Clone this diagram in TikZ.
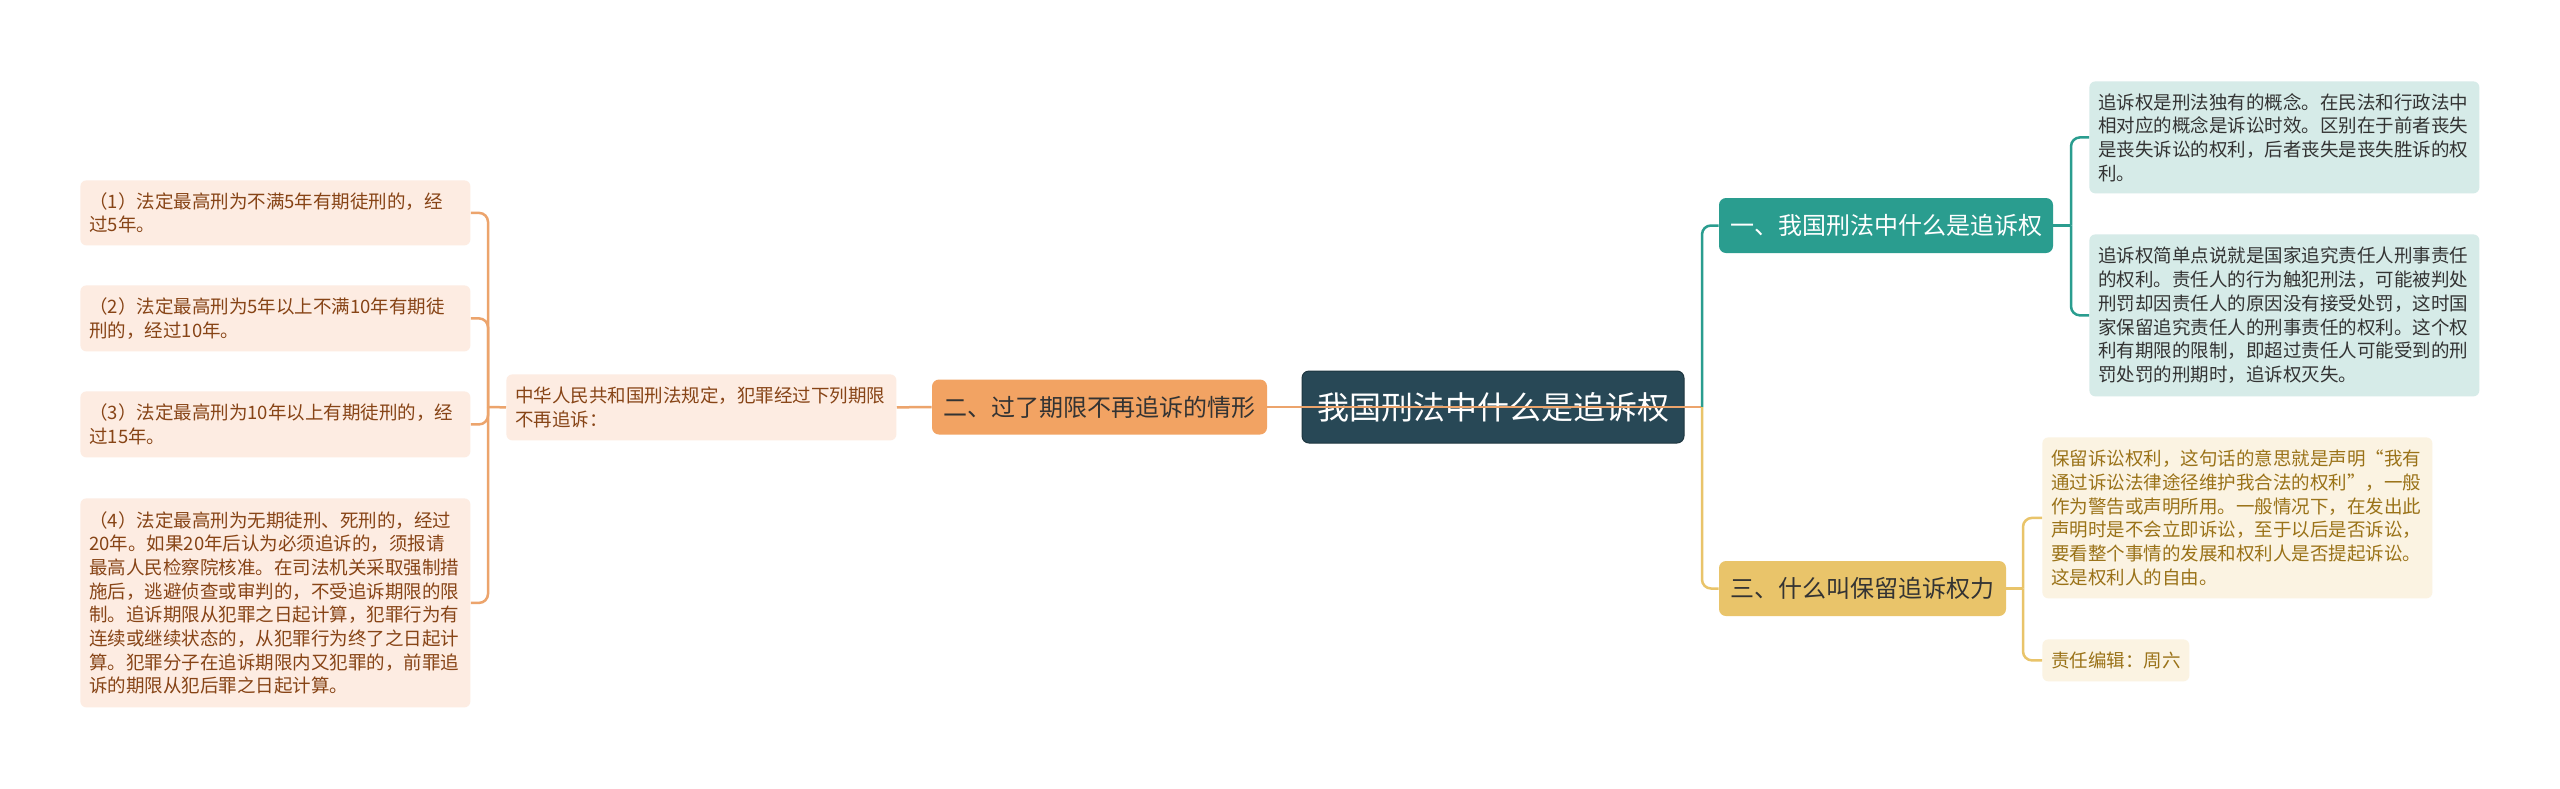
\documentclass[tikz,border=0pt]{standalone}
\usepackage{fontspec}
\setmainfont{Noto Sans CJK SC}
\usepackage{tikz}

\definecolor{rootcol}{RGB}{40,72,86}
\definecolor{orangecol}{RGB}{242,163,99}
\definecolor{orangelinecol}{RGB}{236,164,108}
\definecolor{orangeleafcol}{RGB}{253,236,226}
\definecolor{orangetextcol}{RGB}{135,68,22}
\definecolor{tealcol}{RGB}{42,157,143}
\definecolor{tealleafcol}{RGB}{214,235,232}
\definecolor{yellowcol}{RGB}{233,196,106}
\definecolor{yellowleafcol}{RGB}{251,243,226}
\definecolor{yellowtextcol}{RGB}{154,114,24}

\tikzset{every picture/.style={line width=0.75pt}}
\tikzset{
  rootbox/.style={fill=rootcol, draw=rootcol!75!black, line width=1pt, text=white, rounded corners=7pt,
    minimum width=382pt, minimum height=72pt, inner sep=0pt, font=\fontsize{32pt}{36pt}\selectfont},
  branch/.style={rounded corners=7pt, inner sep=0pt, minimum height=55pt, font=\fontsize{24pt}{28pt}\selectfont},
  orangebranch/.style={branch, fill=orangecol, text=black!80},
  tealbranch/.style={branch, fill=tealcol, text=white},
  yellowbranch/.style={branch, fill=yellowcol, text=black!80},
  leaf/.style={anchor=north west, rounded corners=6pt, inner xsep=9pt, inner ysep=0pt, text width=372pt,
    align=left, font=\fontsize{18.5pt}{23.7pt}\selectfont},
  orangeleaf/.style={leaf, fill=orangeleafcol, text=orangetextcol},
  tealleaf/.style={leaf, fill=tealleafcol, text=black!80},
  yellowleaf/.style={leaf, fill=yellowleafcol, text=yellowtextcol},
  link/.style={line width=2.5pt, rounded corners=9pt},
  orangelink/.style={link, draw=orangelinecol},
  teallink/.style={link, draw=tealcol},
  yellowlink/.style={link, draw=yellowcol},
}

\begin{document}
\begin{tikzpicture}[x=1pt,y=1pt,yscale=-1,xscale=1]
%set diagram size 2560 x 788
\fill[white] (0,0) rectangle (2560,788);

% Root Node
\node[rootbox] (root) at (1493,407) {我国刑法中什么是追诉权};

% Branch Nodes
\node[orangebranch, minimum width=335pt] (limit) at (1099.5,407) {二、过了期限不再追诉的情形};
\node[tealbranch, minimum width=334pt] (what) at (1886,225.5) {一、我国刑法中什么是追诉权};
\node[yellowbranch, minimum width=287pt] (reserve) at (1862.5,588.5) {三、什么叫保留追诉权力};

% Text Node
\node[orangeleaf, minimum height=66pt] (law) at (506,374) {中华人民共和国刑法规定，犯罪经过下列期限\\不再追诉：};
% Text Node
\node[orangeleaf, minimum height=65pt] (term1) at (80,180) {（1）法定最高刑为不满5年有期徒刑的，经\\过5年。};
% Text Node
\node[orangeleaf, minimum height=66pt] (term2) at (80,285) {（2）法定最高刑为5年以上不满10年有期徒\\刑的，经过10年。};
% Text Node
\node[orangeleaf, minimum height=66pt] (term3) at (80,391) {（3）法定最高刑为10年以上有期徒刑的，经\\过15年。};
% Text Node
\node[orangeleaf, minimum height=209pt] (term4) at (80,498) {（4）法定最高刑为无期徒刑、死刑的，经过\\20年。如果20年后认为必须追诉的，须报请\\最高人民检察院核准。在司法机关采取强制措\\施后，逃避侦查或审判的，不受追诉期限的限\\制。追诉期限从犯罪之日起计算，犯罪行为有\\连续或继续状态的，从犯罪行为终了之日起计\\算。犯罪分子在追诉期限内又犯罪的，前罪追\\诉的期限从犯后罪之日起计算。};

% Text Node
\node[tealleaf, minimum height=112pt] (concept) at (2089,81) {追诉权是刑法独有的概念。在民法和行政法中\\相对应的概念是诉讼时效。区别在于前者丧失\\是丧失诉讼的权利，后者丧失是丧失胜诉的权\\利。};
% Text Node
\node[tealleaf, minimum height=162pt] (meaning) at (2089,234) {追诉权简单点说就是国家追究责任人刑事责任\\的权利。责任人的行为触犯刑法，可能被判处\\刑罚却因责任人的原因没有接受处罚，这时国\\家保留追究责任人的刑事责任的权利。这个权\\利有期限的限制，即超过责任人可能受到的刑\\罚处罚的刑期时，追诉权灭失。};

% Text Node
\node[yellowleaf, minimum height=161pt] (statement) at (2042,437) {保留诉讼权利，这句话的意思就是声明“我有\\通过诉讼法律途径维护我合法的权利”，一般\\作为警告或声明所用。一般情况下，在发出此\\声明时是不会立即诉讼，至于以后是否诉讼，\\要看整个事情的发展和权利人是否提起诉讼。\\这是权利人的自由。};
% Text Node
\node[yellowleaf, minimum height=42pt, text width=129pt] (editor) at (2042,639) {责任编辑：周六};

%Straight Lines
\coordinate (lj) at (488,407);
\coordinate (rj) at (1702,407);
\coordinate (tj) at (2071,225.5);
\coordinate (yj) at (2023,588.5);

\draw[orangelink] (law.east) -- (limit.west);
\draw[orangelink] (law.west) -- (lj);
\foreach \t in {term1,term2,term3,term4}
  \draw[orangelink] (lj) |- (\t.east);
\draw[orangelink] (limit.east) -- (rj);

\draw[teallink] (rj) |- (what.west);
\draw[teallink] (what.east) -- (tj);
\draw[teallink] (tj) |- (concept.west);
\draw[teallink] (tj) |- (meaning.west);

\draw[yellowlink] (rj) |- (reserve.west);
\draw[yellowlink] (reserve.east) -- (yj);
\draw[yellowlink] (yj) |- (statement.west);
\draw[yellowlink] (yj) |- (editor.west);

\end{tikzpicture}
\end{document}
